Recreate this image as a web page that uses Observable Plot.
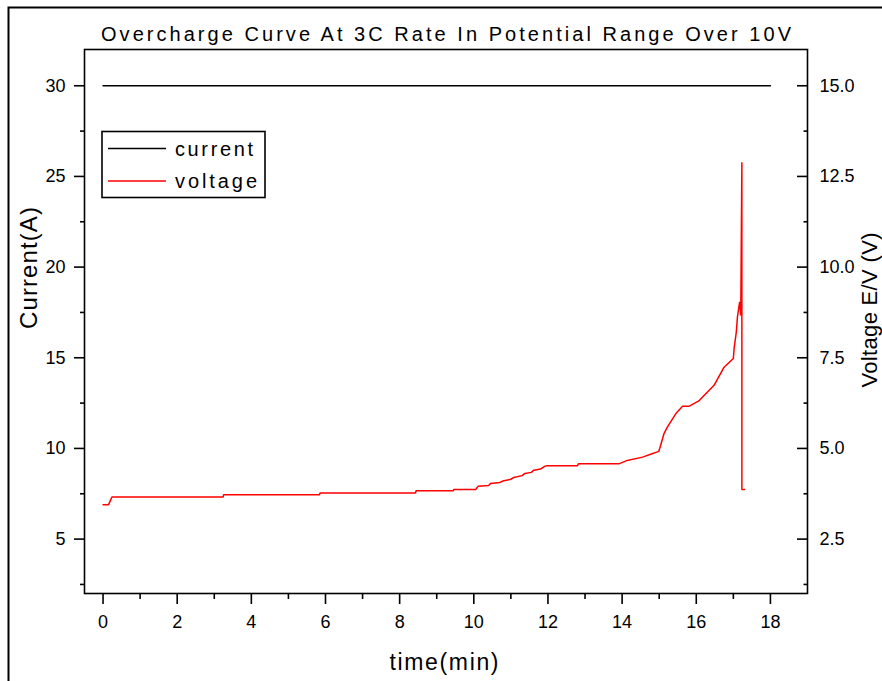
<!DOCTYPE html>
<html>
<head>
<meta charset="utf-8">
<script src="https://cdn.jsdelivr.net/npm/d3@7"></script>
<script src="https://cdn.jsdelivr.net/npm/@observablehq/plot@0.6"></script>
<style>
  html, body { margin: 0; padding: 0; background: #fff; }
  #chart svg { display: block; }
</style>
</head>
<body>
<div id="chart"></div>
<script>
// Current series (A): constant 3C charge current
const currentTime = [0, 3, 6, 9, 12, 15, 18];
const currentAmps = [30, 30, 30, 30, 30, 30, 30];

// Voltage series (V) vs time (min)
const voltageTime = [
  0, 0.15, 0.24, 3.24, 3.25, 5.84, 5.85, 8.43, 8.44, 9.45, 9.46, 10.05,
  10.12, 10.40, 10.45, 10.70, 10.78, 11.00, 11.08, 11.30, 11.38, 11.55, 11.62,
  11.80, 11.90, 11.96, 12.80, 12.82, 13.93, 14.14, 14.55, 14.77, 14.99, 15.04,
  15.13, 15.22, 15.45, 15.63, 15.80, 16.07, 16.17, 16.48, 16.75, 17.00, 17.02,
  17.08, 17.11, 17.17, 17.20, 17.23, 17.23, 17.30
];
const voltageVolts = [
  3.45, 3.45, 3.66, 3.66, 3.72, 3.72, 3.77, 3.77, 3.83, 3.83, 3.87, 3.87,
  3.96, 3.98, 4.03, 4.06, 4.10, 4.15, 4.20, 4.25, 4.31, 4.34, 4.40,
  4.43, 4.50, 4.52, 4.52, 4.58, 4.58, 4.67, 4.76, 4.84, 4.92, 5.09,
  5.41, 5.59, 5.96, 6.16, 6.16, 6.31, 6.42, 6.74, 7.24, 7.48, 7.75,
  8.21, 8.62, 9.04, 8.67, 12.89, 3.87, 3.87
];

// Axis ticks
const timeTicks = [0, 2, 4, 6, 8, 10, 12, 14, 16, 18];
const timeMinor = [1, 3, 5, 7, 9, 11, 13, 15, 17];
const currentTicks = [5, 10, 15, 20, 25, 30];
const currentMinor = [2.5, 7.5, 12.5, 17.5, 22.5, 27.5];
const voltageTicks = [2.5, 5, 7.5, 10, 12.5, 15];
const voltageMinor = [1.25, 3.75, 6.25, 8.75, 11.25, 13.75];

// The right axis shares the left scale: 1 V on the right = 2 A on the left
const V2A = 2;

const currentData = currentTime.map((t, i) => ({t, a: currentAmps[i]}));
const voltageData = voltageTime.map((t, i) => ({t, v: voltageVolts[i]}));

const W = 882, H = 681;
const FONT = "'Liberation Sans', Arial, Helvetica, sans-serif";
const blank = () => "";

const chart = Plot.plot({
  width: W,
  height: H,
  marginLeft: 84,
  marginRight: 75,
  marginTop: 49,
  marginBottom: 88,
  style: {fontFamily: FONT, fontSize: "18px", background: "#fff", color: "#000", overflow: "visible"},
  x: {domain: [-0.5, 19]},
  y: {domain: [2, 32]},
  marks: [
    Plot.line(currentData, {x: "t", y: "a", stroke: "#000", strokeWidth: 1.5}),
    Plot.line(voltageData, {x: "t", y: d => d.v * V2A, stroke: "#ff0000", strokeWidth: 1.5, strokeLinejoin: "miter"}),
    Plot.frame({stroke: "#000", strokeWidth: 1.6}),
    // bottom axis
    Plot.axisX({ticks: timeTicks, tickSize: 11, tickPadding: 11, strokeWidth: 1.6, label: null, fontSize: 18}),
    Plot.axisX({ticks: timeMinor, tickSize: 6, strokeWidth: 1.6, label: null, tickFormat: blank}),
    // left axis: current
    Plot.axisY({anchor: "left", ticks: currentTicks, tickSize: 10, tickPadding: 9, strokeWidth: 1.6, label: null, fontSize: 18}),
    Plot.axisY({anchor: "left", ticks: currentMinor, tickSize: 4, strokeWidth: 1.6, label: null, tickFormat: blank}),
    // right axis: voltage, ticks pointing into the frame
    Plot.axisY({anchor: "right", ticks: voltageTicks.map(v => v * V2A), tickSize: -11, strokeWidth: 1.6, label: null, tickFormat: blank}),
    Plot.axisY({anchor: "right", ticks: voltageMinor.map(v => v * V2A), tickSize: -4.5, strokeWidth: 1.6, label: null, tickFormat: blank}),
    Plot.axisY({anchor: "right", ticks: voltageTicks.map(v => v * V2A), tickSize: 0, tickPadding: 12, label: null,
      tickFormat: d => (d / V2A).toFixed(1), fontSize: 18})
  ]
});

document.getElementById("chart").appendChild(chart);

const svg = d3.select(chart);

// outer border of the figure (top and left edges)
svg.append("path")
  .attr("d", `M8.5,${H}V7.5H${W}`)
  .attr("fill", "none").attr("stroke", "#000").attr("stroke-width", 2);

function label(text, x, y, size, length, rotate = 0) {
  return svg.append("text")
    .attr("font-family", FONT)
    .attr("font-size", size)
    .attr("fill", "#000")
    .attr("text-anchor", "middle")
    .attr("textLength", length)
    .attr("lengthAdjust", "spacing")
    .attr("transform", `translate(${x},${y}) rotate(${rotate})`)
    .text(text);
}

// title and axis titles
label("Overcharge Curve At 3C Rate In Potential Range Over 10V", 446, 41, 20, 690);
label("time(min)", 444, 669.5, 23, 109);
label("Current(A)", 36.5, 268, 24, 122, -90);
label("Voltage E/V (V)", 877, 310, 22, 155, -90);

// legend
const lg = svg.append("g");
lg.append("rect").attr("x", 102).attr("y", 131.5).attr("width", 163).attr("height", 66)
  .attr("fill", "#fff").attr("stroke", "#000").attr("stroke-width", 1.6);
const legendItems = [
  {name: "current", color: "#000", y: 148.5, base: 155.5, len: 78},
  {name: "voltage", color: "#ff0000", y: 181, base: 188, len: 82}
];
legendItems.forEach(d => {
  lg.append("line").attr("x1", 108).attr("x2", 166).attr("y1", d.y).attr("y2", d.y)
    .attr("stroke", d.color).attr("stroke-width", 1.5);
  lg.append("text").attr("x", 175).attr("y", d.base)
    .attr("font-family", FONT).attr("font-size", 20).attr("fill", "#000")
    .attr("text-anchor", "start")
    .attr("textLength", d.len).attr("lengthAdjust", "spacing")
    .text(d.name);
});
</script>
</body>
</html>
